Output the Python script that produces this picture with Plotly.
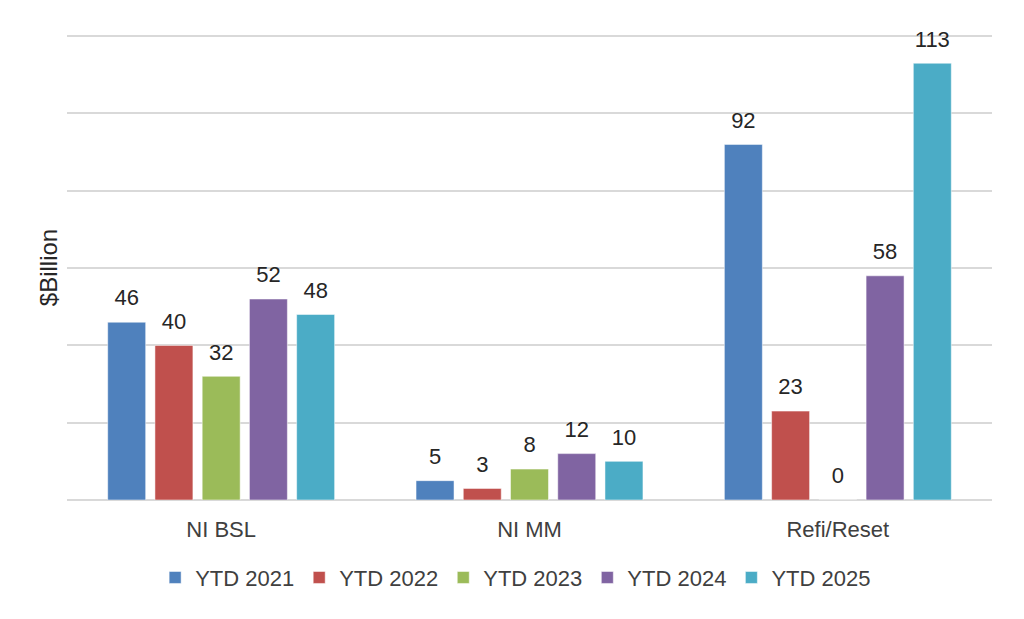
import plotly.graph_objects as go

categories = ["NI BSL", "NI MM", "Refi/Reset"]
series_names = ["YTD 2021", "YTD 2022", "YTD 2023", "YTD 2024", "YTD 2025"]
ytd_2021 = [46, 5, 92]
ytd_2022 = [40, 3, 23]
ytd_2023 = [32, 8, 0]
ytd_2024 = [52, 12, 58]
ytd_2025 = [48, 10, 113]
colors = ["#4F81BD", "#C0504D", "#9BBB59", "#8064A2", "#4BACC6"]

series_values = [ytd_2021, ytd_2022, ytd_2023, ytd_2024, ytd_2025]

FONT = "Liberation Sans, Arial, sans-serif"

fig = go.Figure()
for name, vals, col in zip(series_names, series_values, colors):
    fig.add_trace(go.Bar(
        x=categories, y=vals, name=name,
        marker=dict(color=col, line=dict(color="rgba(255,255,255,0.5)", width=1)),
        text=[f"<span style='font-size:22px'>{v}</span><br>\u00a0" for v in vals],
        textposition="outside", constraintext="none",
        textfont=dict(family=FONT, size=9, color="#262626"),
        cliponaxis=False,
    ))

fig.update_layout(
    width=1008, height=603,
    margin=dict(l=59, r=24, t=27, b=109),
    paper_bgcolor="white", plot_bgcolor="white",
    barmode="group", bargap=0.234, bargroupgap=0.196,
    font=dict(family=FONT, size=22, color="#404040"),
    legend=dict(orientation="h", x=0.485, xanchor="center", y=-0.167, yanchor="middle",
                font=dict(size=22, color="#404040"), itemwidth=30, traceorder="normal"),
    showlegend=True,
)
fig.update_xaxes(showgrid=False, showline=False, ticks="", ticklabelstandoff=14,
                 tickfont=dict(size=22, color="#404040"))
fig.update_yaxes(range=[0, 120.3], dtick=20, showticklabels=False, showgrid=True,
                 gridcolor="#D9D9D9", gridwidth=2, zeroline=True, zerolinecolor="#D9D9D9",
                 zerolinewidth=2, showline=False,
                 title=dict(text="$Billion", font=dict(size=24, color="#262626"), standoff=1))

fig.write_html("out.html")
